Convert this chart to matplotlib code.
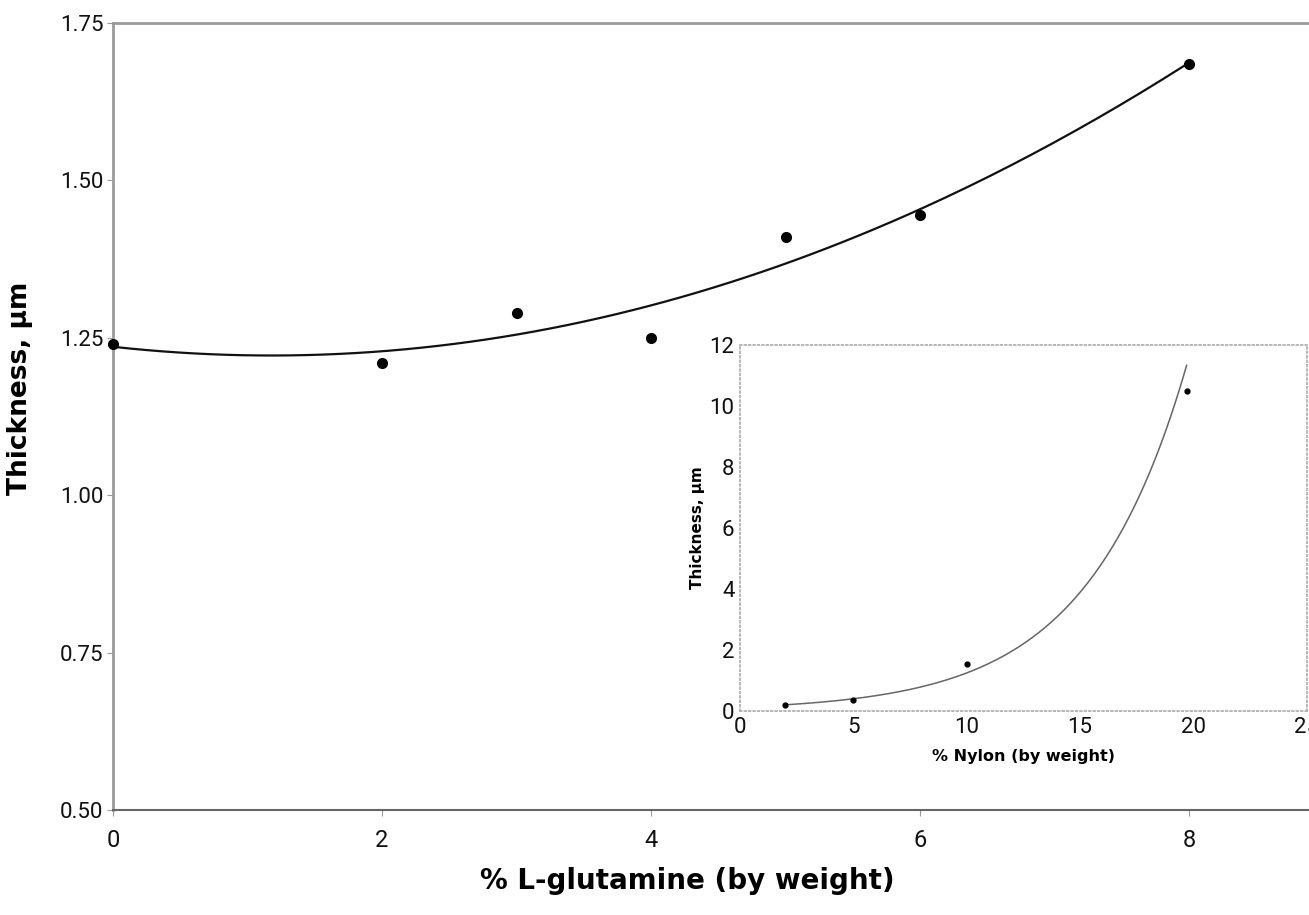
import numpy as np
import matplotlib
matplotlib.use("Agg")
import matplotlib.pyplot as plt

# main chart: % L-glutamine vs thickness
glu_pct = [0, 2, 3, 4, 5, 6, 8]
glu_thick = [1.24, 1.21, 1.29, 1.25, 1.41, 1.445, 1.685]

# inset: % Nylon vs thickness
nylon_pct = [2, 5, 10, 19.7]
nylon_thick = [0.2, 0.35, 1.55, 10.5]

main_yticks = [0.50, 0.75, 1.00, 1.25, 1.50, 1.75]
main_xticks = [0, 2, 4, 6, 8]
inset_yticks = [0, 2, 4, 6, 8, 10, 12]
inset_xticks = [0, 5, 10, 15, 20, 25]

tickfont = ['Roboto', 'DejaVu Sans']
labelfont = ['DejaVu Sans']
spine_col = '#9a9a9a'

fig = plt.figure(figsize=(13.09, 9.15), dpi=100)
ax = fig.add_axes([0.0863, 0.1148, 0.925, 0.8601])

# trend lines fitted to the plotted points
c2 = np.polyfit(glu_pct, glu_thick, 2)
xs = np.linspace(0, 8, 200)
ax.plot(xs, np.polyval(c2, xs), color='#111111', lw=1.6, zorder=2)
ax.plot(glu_pct, glu_thick, 'o', color='black', ms=7, zorder=3, clip_on=False)

ax.set_xlim(0, 9)
ax.set_ylim(0.5, 1.75)
ax.set_xticks(main_xticks)
ax.set_xticklabels([str(x) for x in main_xticks], family=tickfont,
                   fontsize=17, color='#111111')
ax.set_yticks(main_yticks)
ax.set_yticklabels(['{:.2f}'.format(y) for y in main_yticks], family=tickfont,
                   fontsize=16, color='#111111')
ax.tick_params(axis='x', length=4, width=0.8, color=spine_col, pad=10)
ax.tick_params(axis='y', length=4, width=0.8, color=spine_col, pad=3)
for s in ['left', 'top']:
    ax.spines[s].set_color(spine_col)
    ax.spines[s].set_linewidth(2)
ax.spines['bottom'].set_color('#666666')
ax.spines['bottom'].set_linewidth(1.5)
ax.spines['right'].set_visible(False)
ax.set_xlabel('% L-glutamine (by weight)', family=labelfont, fontweight='bold', fontsize=20)
ax.xaxis.set_label_coords(0.474, -0.072)
ax.xaxis.label.set_va('top')
ax.set_ylabel('Thickness, µm', family=labelfont, fontweight='bold', fontsize=19)
ax.yaxis.set_label_coords(-0.066, 0.536)

# inset
ins = fig.add_axes([0.5653, 0.2230, 0.4330, 0.4000])
b, lna = np.polyfit(nylon_pct, np.log(nylon_thick), 1)
xn = np.linspace(2, 19.7, 200)
ins.plot(xn, np.exp(lna) * np.exp(b * xn), color='#666666', lw=1.1, zorder=2)
ins.plot(nylon_pct, nylon_thick, 'o', color='black', ms=3.5, zorder=3)
ins.set_xlim(0, 25)
ins.set_ylim(0, 12)
ins.set_xticks(inset_xticks)
ins.set_xticklabels([str(x) for x in inset_xticks], family=tickfont,
                    fontsize=16, color='#111111')
ins.set_yticks(inset_yticks)
ins.set_yticklabels([str(y) for y in inset_yticks], family=tickfont,
                    fontsize=16, color='#111111')
ins.tick_params(axis='x', length=0, pad=4)
ins.tick_params(axis='y', length=0, pad=4)
for s in ins.spines.values():
    s.set_color('#aaaaaa')
    s.set_linestyle(':')
    s.set_linewidth(1.2)
ins.set_xlabel('% Nylon (by weight)', family=labelfont, fontweight='bold', fontsize=11.5, labelpad=8)
ins.set_ylabel('Thickness, µm', family=labelfont, fontweight='bold', fontsize=11, labelpad=3)

fig.savefig('out.png', dpi=100)
